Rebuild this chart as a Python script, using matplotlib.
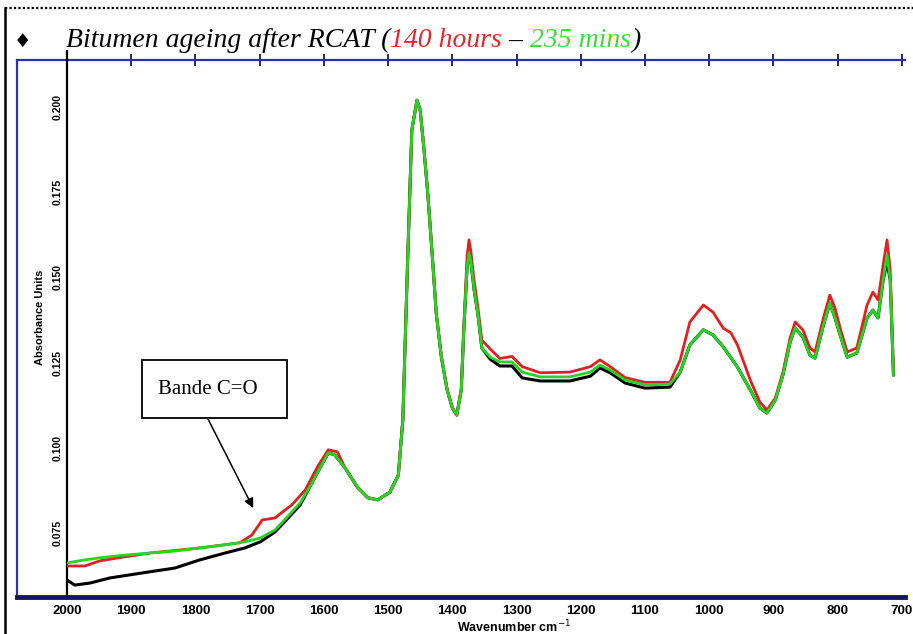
import matplotlib
matplotlib.use("Agg")
import matplotlib.pyplot as plt
from matplotlib.lines import Line2D
from matplotlib.patches import Rectangle

# ---- spectra: wavenumber (cm-1) and absorbance ----
wn_green = [2000, 1972, 1949, 1910, 1871, 1832, 1793, 1754, 1723, 1699,
            1676, 1657, 1637, 1622, 1606, 1593, 1583, 1567, 1548, 1531,
            1516, 1497, 1484, 1477, 1470, 1463, 1455, 1450, 1444, 1438,
            1431, 1425, 1417, 1408, 1400, 1393, 1386, 1382, 1377, 1374,
            1371, 1366, 1360, 1354, 1341, 1326, 1307, 1291, 1263, 1217,
            1185, 1170, 1154, 1131, 1100, 1061, 1045, 1030, 1009, 994,
            978, 956, 936, 921, 910, 897, 885, 874, 866, 854,
            843, 835, 822, 812, 804, 796, 785, 770, 754, 745,
            737, 729, 723, 718, 713]
abs_green = [0.0662, 0.0671, 0.0677, 0.0685, 0.0691, 0.0697, 0.0706, 0.0715, 0.0724, 0.0735,
             0.0759, 0.0797, 0.0838, 0.0885, 0.0941, 0.0985, 0.0979, 0.0941, 0.0885, 0.0853,
             0.0847, 0.0870, 0.0920, 0.1082, 0.1522, 0.1932, 0.2020, 0.1991, 0.1874, 0.1742,
             0.1560, 0.1395, 0.1266, 0.1170, 0.1117, 0.1096, 0.1170, 0.1346, 0.1528, 0.1572,
             0.1545, 0.1463, 0.1390, 0.1293, 0.1266, 0.1252, 0.1252, 0.1222, 0.1208, 0.1208,
             0.1222, 0.1243, 0.1228, 0.1199, 0.1184, 0.1187, 0.1222, 0.1302, 0.1346, 0.1331,
             0.1296, 0.1237, 0.1170, 0.1117, 0.1102, 0.1140, 0.1214, 0.1310, 0.1351, 0.1325,
             0.1272, 0.1263, 0.1360, 0.1425, 0.1381, 0.1331, 0.1266, 0.1278, 0.1381, 0.1404,
             0.1381, 0.1492, 0.1566, 0.1492, 0.1214]

wn_red = [2000, 1972, 1949, 1910, 1871, 1793, 1731, 1712, 1696, 1676,
          1664, 1650, 1629, 1609, 1593, 1579,
          1567, 1548, 1531, 1516, 1497, 1484, 1477, 1470, 1463, 1455,
          1450, 1444, 1438, 1431, 1425, 1417, 1408, 1400, 1393, 1386, 1382,
          1377, 1374, 1371, 1366, 1360, 1354, 1341, 1326, 1307, 1291,
          1263, 1217, 1185, 1170, 1154, 1131, 1100, 1061, 1045, 1030,
          1009, 994, 978, 966, 956, 936, 921, 910, 897, 885,
          874, 866, 854, 843, 835, 822, 812, 804, 796, 785,
          770, 754, 745, 737, 729, 723, 718, 713]
abs_red = [0.0653, 0.0653, 0.0668, 0.0680, 0.0691, 0.0706, 0.0721, 0.0744, 0.0788, 0.0794,
           0.0812, 0.0832, 0.0876, 0.0947, 0.0994, 0.0988,
           0.0941, 0.0885, 0.0853, 0.0847, 0.0870, 0.0920, 0.1082, 0.1522, 0.1932, 0.2020,
           0.1991, 0.1874, 0.1742, 0.1560, 0.1395, 0.1266, 0.1170, 0.1117, 0.1096, 0.1175, 0.1360,
           0.1560, 0.1610, 0.1575, 0.1490, 0.1410, 0.1316, 0.1290, 0.1262, 0.1268, 0.1238,
           0.1220, 0.1222, 0.1238, 0.1258, 0.1238, 0.1206, 0.1192, 0.1192, 0.1258, 0.1369,
           0.1419, 0.1398, 0.1351, 0.1337, 0.1302, 0.1199, 0.1134, 0.1111, 0.1146, 0.1222,
           0.1322, 0.1369, 0.1346, 0.1293, 0.1281, 0.1381, 0.1448, 0.1410, 0.1351, 0.1281,
           0.1293, 0.1419, 0.1457, 0.1434, 0.1536, 0.1610, 0.1522, 0.1228]

wn_black = [2000, 1988, 1964, 1933, 1902, 1871, 1832, 1793, 1754, 1723,
            1699, 1676, 1657, 1637, 1622, 1606, 1593, 1583, 1567, 1548,
            1531, 1516, 1497, 1484, 1477, 1470, 1463, 1455, 1450, 1444,
            1438, 1431, 1425, 1417, 1408, 1400, 1393, 1386, 1382, 1377,
            1374, 1371, 1366, 1360, 1354, 1341, 1326, 1307, 1291, 1263,
            1217, 1185, 1170, 1154, 1131, 1100, 1061, 1045, 1030, 1009,
            994, 978, 956, 936, 921, 910, 897, 885, 874, 866,
            854, 843, 835, 822, 812, 804, 796, 785, 770, 754,
            745, 737, 729, 723, 718, 713]
abs_black = [0.0612, 0.0597, 0.0603, 0.0618, 0.0627, 0.0636, 0.0647, 0.0671, 0.0691, 0.0706,
             0.0724, 0.0753, 0.0791, 0.0832, 0.0885, 0.0941, 0.0985, 0.0979, 0.0941, 0.0885,
             0.0853, 0.0847, 0.0870, 0.0920, 0.1082, 0.1522, 0.1932, 0.2020, 0.1991, 0.1874,
             0.1742, 0.1560, 0.1395, 0.1266, 0.1170, 0.1117, 0.1096, 0.1170, 0.1346, 0.1528,
             0.1572, 0.1545, 0.1463, 0.1390, 0.1293, 0.1260, 0.1240, 0.1240, 0.1205, 0.1196,
             0.1196, 0.1210, 0.1234, 0.1220, 0.1190, 0.1175, 0.1178, 0.1222, 0.1302, 0.1346,
             0.1331, 0.1296, 0.1237, 0.1170, 0.1117, 0.1102, 0.1140, 0.1214, 0.1310, 0.1351,
             0.1325, 0.1272, 0.1263, 0.1360, 0.1425, 0.1381, 0.1331, 0.1266, 0.1278, 0.1381,
             0.1404, 0.1381, 0.1492, 0.1545, 0.1492, 0.1214]

x_ticks = [2000, 1900, 1800, 1700, 1600, 1500, 1400, 1300, 1200, 1100, 1000, 900, 800, 700]
y_ticks = [0.075, 0.100, 0.125, 0.150, 0.175, 0.200]
y_tick_labels = ["0.075", "0.100", "0.125", "0.150", "0.175", "0.200"]

title_parts = [("Bitumen ageing after RCAT (", "black"),
               ("140 hours", "#e3262b"),
               (" \u2013 ", "black"),
               ("235 mins", "#3add3a"),
               (")", "black")]

W, H = 913, 634
fig = plt.figure(figsize=(W / 100, H / 100), dpi=100)
fig.patch.set_facecolor("white")


def fx(px):
    return px / W


def fy(py):
    return 1 - py / H


BLUE = "#2b2fa8"
NAVY = "#14146e"

ax = fig.add_axes([fx(67), fy(597), (905 - 67) / W, (597 - 60) / H])
ax.set_xlim(2000, 695)
ax.set_ylim(0.0562, 0.2138)
ax.set_facecolor("white")

ax.plot(wn_black, abs_black, color="black", lw=2.2, zorder=3)
ax.plot(wn_red, abs_red, color="#e01f1f", lw=2.0, zorder=4)
ax.plot(wn_green, abs_green, color="#22d622", lw=2.0, zorder=5)

for side in ("top", "bottom", "right"):
    ax.spines[side].set_visible(False)
ax.spines["left"].set_color("black")
ax.spines["left"].set_linewidth(1.6)

ax.set_xticks(x_ticks)
ax.set_xticklabels([str(t) for t in x_ticks])
ax.tick_params(axis="x", top=True, bottom=False, labeltop=False, labelbottom=True,
               direction="inout", length=9, width=1.3, color=NAVY, pad=1.5)
for lab in ax.get_xticklabels():
    lab.set_fontfamily("Liberation Sans")
    lab.set_fontweight("bold")
    lab.set_fontsize(9.5)

ax.set_yticks(y_ticks)
ax.set_yticklabels(y_tick_labels)
ax.tick_params(axis="y", left=True, length=0, pad=3, labelrotation=90)
for lab in ax.get_yticklabels():
    lab.set_fontfamily("Liberation Sans")
    lab.set_fontweight("bold")
    lab.set_fontsize(7.5)
    lab.set_va("center")

# blue frame around the plot
fig.add_artist(Line2D([fx(17), fx(905)], [fy(60), fy(60)], color=BLUE, lw=1.6))
fig.add_artist(Line2D([fx(17), fx(17)], [fy(60), fy(598)], color=BLUE, lw=1.6))
fig.add_artist(Line2D([fx(17), fx(905)], [fy(597), fy(597)], color=NAVY, lw=3.5))
fig.add_artist(Line2D([fx(67), fx(67)], [fy(51), fy(60)], color="black", lw=1.6))

# outer slide border
fig.add_artist(Line2D([fx(5), fx(913)], [fy(8), fy(8)], color="black", lw=1.6,
                      linestyle=(0, (1, 1))))
fig.add_artist(Line2D([fx(5), fx(5)], [fy(8), fy(634)], color="black", lw=1.8))

# axis titles
fig.text(fx(40), fy(317), "Absorbance Units", rotation=90, ha="center", va="center",
         fontsize=8, fontweight="bold", family="Liberation Sans")
fig.text(fx(514), fy(619), "Wavenumber cm$^{-1}$", ha="center", va="top",
         fontsize=9, fontweight="bold", family="Liberation Sans")

# title line with coloured parts
fig.text(fx(14), fy(47), "\u2666", fontsize=14, family="DejaVu Sans", va="baseline",
         color="black")
renderer = fig.canvas.get_renderer()
xpos = fx(66)
for txt, col in title_parts:
    t = fig.text(xpos, fy(47), txt, color=col, fontsize=20, family="Liberation Serif",
                 style="italic", va="baseline", ha="left")
    bb = t.get_window_extent(renderer)
    xpos = bb.x1 / fig.bbox.width

# carbonyl band callout
fig.add_artist(Rectangle((fx(142), fy(418)), (287 - 142) / W, (418 - 360) / H,
                         fill=True, facecolor="white", edgecolor="black", lw=1.3,
                         transform=fig.transFigure, zorder=6))
fig.text(fx(158), fy(390), "Bande C=O", ha="left", va="center", fontsize=15,
         family="Liberation Serif", zorder=7)
ax.annotate("", xy=(1710, 0.0823), xycoords="data",
            xytext=(fx(208), fy(419)), textcoords="figure fraction",
            arrowprops=dict(arrowstyle="-|>", color="black", lw=1.1,
                            mutation_scale=14, shrinkA=0, shrinkB=0),
            zorder=6)

fig.savefig("out.png", dpi=100, facecolor="white")
